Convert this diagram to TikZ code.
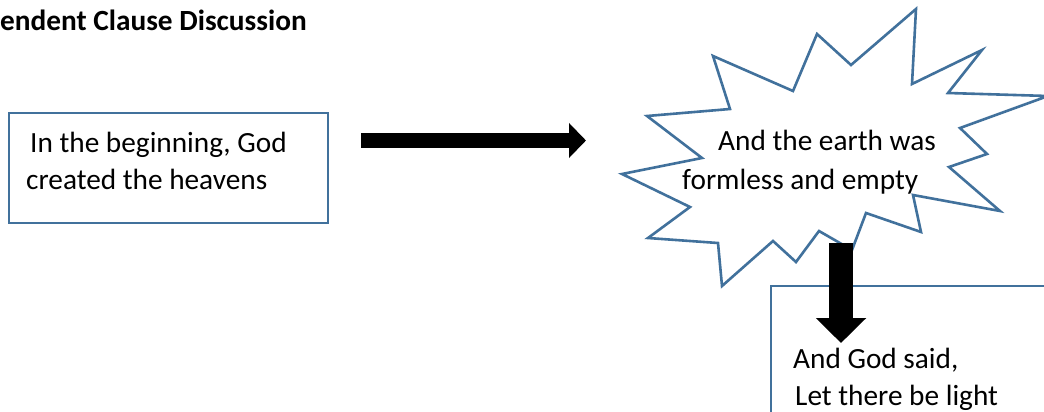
\documentclass[tikz,border=0pt]{standalone}
\usepackage{fontspec}
\setmainfont{Carlito}
\usetikzlibrary{arrows.meta}
\definecolor{outl}{RGB}{65,113,156}
\tikzset{
  txt/.style={inner sep=0pt, anchor=base west, font=\fontsize{29.3}{38}\selectfont},
  ttl/.style={inner sep=0pt, anchor=base west, font=\fontsize{29.3}{38}\selectfont\bfseries},
  boxshape/.style={draw=outl, line width=2.6pt, fill=white},
  burst/.style={draw=outl, line width=2.6pt, fill=white, line join=miter},
  blockarrow/.style={line width=#1, -{Triangle[length=17pt,width=34pt]}},
  downarrow/.style={line width=24pt, -{Triangle[length=25pt,width=49pt]}}
}
\begin{document}
\begin{tikzpicture}[x=1pt,y=-1pt]
\useasboundingbox (0,0) rectangle (1044,412);
\clip (0,0) rectangle (1044,412);
\fill[white] (0,0) rectangle (1044,412);
% title
\node[ttl] (title) at (0,31) {endent Clause Discussion};
% left box
\node[boxshape, minimum width=319pt, minimum height=110pt, inner sep=0pt] (box1) at (168.5,168) {};
\node[txt] (t1a) at (30,152) {In the beginning, God};
\node[txt] (t1b) at (26,189) {created the heavens};
% starburst
\draw[burst] (622,174) -- (702,158) -- (647,116) -- (730,109) -- (713,56) -- (793,91)
  -- (817,34) -- (851,65) -- (916,9) -- (912,84) -- (982,50) -- (948,93) -- (1048,96)
  -- (960,128) -- (987,154) -- (949,167) -- (1000,211) -- (913,195) -- (921,232)
  -- (866,213) -- (852,250) -- (819,231) -- (796,262) -- (773,241) -- (722,286)
  -- (718,243) -- (648,238) -- (690,207) -- cycle;
\node[txt] (t2a) at (718,150) {And the earth was};
\node[txt] (t2b) at (682,189) {formless and empty};
% right box
\draw[boxshape] (771,286) rectangle (1070,440);
\node[inner sep=0pt] (box3) at (920,363) {};
\node[txt] (t3a) at (793,368) {And God said,};
\node[txt] (t3b) at (795,405) {Let there be light};
% arrows
\coordinate (a1s) at (361,140.5);
\coordinate (a1e) at (586,140.5);
\draw[blockarrow=15pt] (a1s) -- (a1e);
\coordinate (a2s) at (841,243);
\coordinate (a2e) at (841,343);
\draw[downarrow] (a2s) -- (a2e);
\end{tikzpicture}
\end{document}
